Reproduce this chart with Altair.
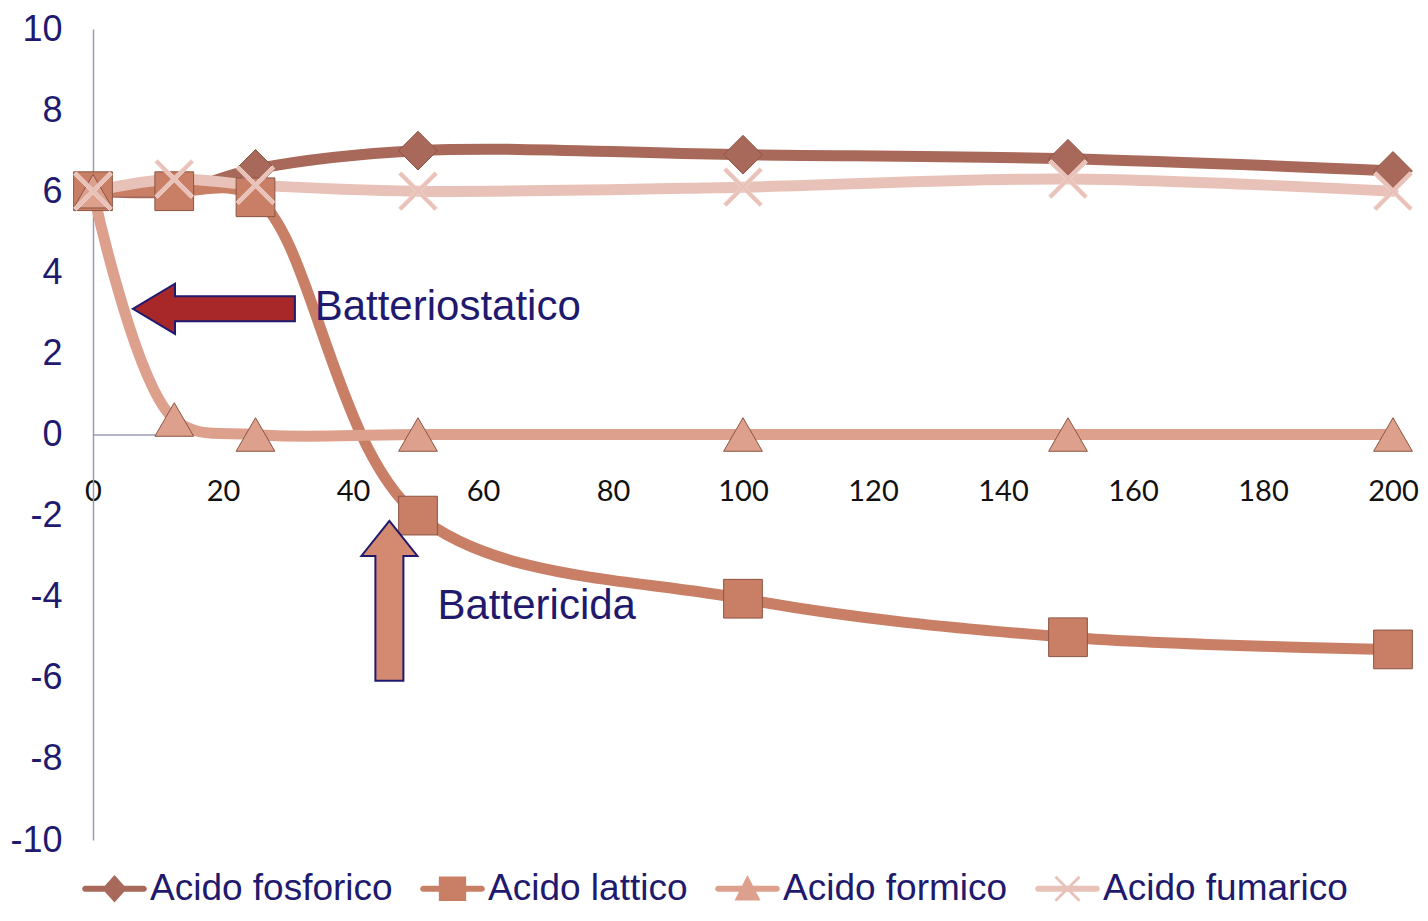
import altair as alt
import pandas as pd

# ---- data ----
x_vals = [0, 12.5, 25, 50, 100, 150, 200]
series_names = ["Acido fosforico", "Acido lattico", "Acido formico", "Acido fumarico"]
fosforico = [6.0, 6.0, 6.55, 7.0, 6.9, 6.8, 6.5]
lattico = [6.0, 6.0, 5.85, -2.0, -4.05, -5.0, -5.3]
formico = [6.0, 0.37, 0.0, 0.0, 0.0, 0.0, 0.0]
fumarico = [6.0, 6.3, 6.15, 6.0, 6.1, 6.3, 6.0]

x_ticks = [0, 20, 40, 60, 80, 100, 120, 140, 160, 180, 200]
y_ticks = [-10, -8, -6, -4, -2, 0, 2, 4, 6, 8, 10]

annot_text = ["Batteriostatico", "Battericida"]
annot_x = [34.1, 53.0]
annot_y = [3.15, -4.22]

arrow_names = ["left", "up"]
arrow_x = [18.6, 45.6]
arrow_y = [3.1, -4.1]

# ---- styles ----
NAVY = "#1F1A6E"
line_colors = ["#A8695A", "#C87F66", "#DCA08C", "#E8C2B8"]
X_PATH = ("M-1,-0.86L-0.86,-1L0,-0.14L0.86,-1L1,-0.86L0.14,0L1,0.86L0.86,1"
          "L0,0.14L-0.86,1L-1,0.86L-0.14,0Z")
shapes = ["diamond", "square", "triangle-up", X_PATH]

# legend symbols: a rounded line segment with the marker on top
BAR = ("M-0.9,-0.095L0.9,-0.095A0.095,0.095 0 0 1 0.9,0.095L-0.9,0.095"
       "A0.095,0.095 0 0 1 -0.9,-0.095Z")
LEG_DIAMOND = BAR + "M0,-0.42L0.38,0L0,0.42L-0.38,0Z"
LEG_SQUARE = BAR + "M-0.42,-0.38L0.42,-0.38L0.42,0.38L-0.42,0.38Z"
LEG_TRIANGLE = BAR + "M0,-0.42L0.4,0.36L-0.4,0.36Z"
LEG_X = BAR + ("M-0.4,-0.34L-0.34,-0.4L0,-0.06L0.34,-0.4L0.4,-0.34L0.06,0"
               "L0.4,0.34L0.34,0.4L0,0.06L-0.34,0.4L-0.4,0.34L-0.06,0Z")
legend_shapes = [LEG_DIAMOND, LEG_SQUARE, LEG_TRIANGLE, LEG_X]

LEFT_ARROW = "M-1,0L-0.48,-0.31L-0.48,-0.154L1,-0.154L1,0.154L-0.48,0.154L-0.48,0.31Z"
UP_ARROW = "M0,-1L0.35,-0.56L0.175,-0.56L0.175,1L-0.175,1L-0.175,-0.56L-0.35,-0.56Z"

W, H = 1300, 811

rows = []
for name, vals in zip(series_names, [fosforico, lattico, formico, fumarico]):
    for xv, yv in zip(x_vals, vals):
        rows.append({"x": xv, "y": yv, "series": name})
df = pd.DataFrame(rows)

# legend-only rows (no y value, so nothing is drawn in the plot)
leg_df = pd.DataFrame({"series": series_names, "x": [0.0] * 4, "y": [None] * 4})

ann = pd.DataFrame({"label": annot_text, "x": annot_x, "y": annot_y})
arr = pd.DataFrame({"name": arrow_names, "x": arrow_x, "y": arrow_y})

xscale = alt.Scale(domain=[0, 200], nice=False, zero=False)
yscale = alt.Scale(domain=[-10, 10], nice=False, zero=False)

legend = alt.Legend(
    title=None, orient="none", legendX=-12, legendY=826, direction="horizontal",
    columns=4, labelFont="Liberation Sans", labelFontSize=37, labelColor=NAVY,
    symbolSize=65 * 65, labelOffset=2, columnPadding=26, labelLimit=400,
)
color_scale = alt.Scale(domain=series_names, range=line_colors)
color = alt.Color("series:N", scale=color_scale, legend=None, sort=series_names)

xenc = alt.X("x:Q", scale=xscale, axis=alt.Axis(
    values=x_ticks, title=None, grid=False, ticks=False, tickSize=0,
    labelFont="Lato", labelFontSize=29, labelColor="#111111", labelPadding=43,
    domainColor="#9A9AB8", domainWidth=1.5, offset=-H / 2, labelFlush=False,
    labelOverlap=False))
yenc = alt.Y("y:Q", scale=yscale, axis=alt.Axis(
    values=y_ticks, title=None, grid=False, ticks=False, tickSize=0,
    labelFont="Liberation Sans", labelFontSize=36, labelColor=NAVY, labelPadding=31,
    domainColor="#9A9AB8", domainWidth=1.5, labelFlush=False, labelOverlap=False,
    labelExpr="toString(datum.value)"))

lines = alt.Chart(df).mark_line(strokeWidth=11, interpolate="catmull-rom",
                                strokeCap="round").encode(
    x=xenc, y=yenc, color=color, detail="series:N")

points = alt.Chart(df).mark_point(filled=True, size=1500, opacity=1).encode(
    x="x:Q", y="y:Q", color=color,
    shape=alt.Shape("series:N", scale=alt.Scale(domain=series_names, range=shapes),
                    legend=None, sort=series_names),
    stroke=alt.condition("datum.series == 'Acido fumarico'",
                         alt.value("#F2D2CA"), alt.value("#8C5442")),
    strokeWidth=alt.value(1),
)

legend_layer = alt.Chart(leg_df).mark_point(filled=True, opacity=1).encode(
    x="x:Q", y="y:Q",
    color=alt.Color("series:N", scale=color_scale, legend=legend, sort=series_names),
    shape=alt.Shape("series:N", scale=alt.Scale(domain=series_names, range=legend_shapes),
                    legend=legend, sort=series_names),
)

left_arrow = alt.Chart(arr).transform_filter("datum.name == 'left'").mark_point(
    filled=True, opacity=1, fill="#A8282A", stroke=NAVY, strokeWidth=2,
    shape=LEFT_ARROW, size=162 * 162).encode(x="x:Q", y="y:Q")
up_arrow = alt.Chart(arr).transform_filter("datum.name == 'up'").mark_point(
    filled=True, opacity=1, fill="#D48A70", stroke=NAVY, strokeWidth=2,
    shape=UP_ARROW, size=160 * 160).encode(x="x:Q", y="y:Q")

texts = alt.Chart(ann).mark_text(align="left", baseline="middle",
                                 font="Liberation Sans", fontSize=42,
                                 color=NAVY).encode(x="x:Q", y="y:Q", text="label:N")

chart = alt.layer(lines, points, legend_layer, left_arrow, up_arrow, texts).resolve_scale(
    shape="independent"
).resolve_legend(
    color="independent", shape="independent"
).properties(
    width=W, height=H,
    autosize=alt.AutoSizeParams(type="none"),
    padding={"left": 85, "top": 21, "right": 27, "bottom": 68},
    background="white",
).configure_view(stroke=None)

chart.save("out.html", embed_options={"renderer": "svg", "actions": False})
